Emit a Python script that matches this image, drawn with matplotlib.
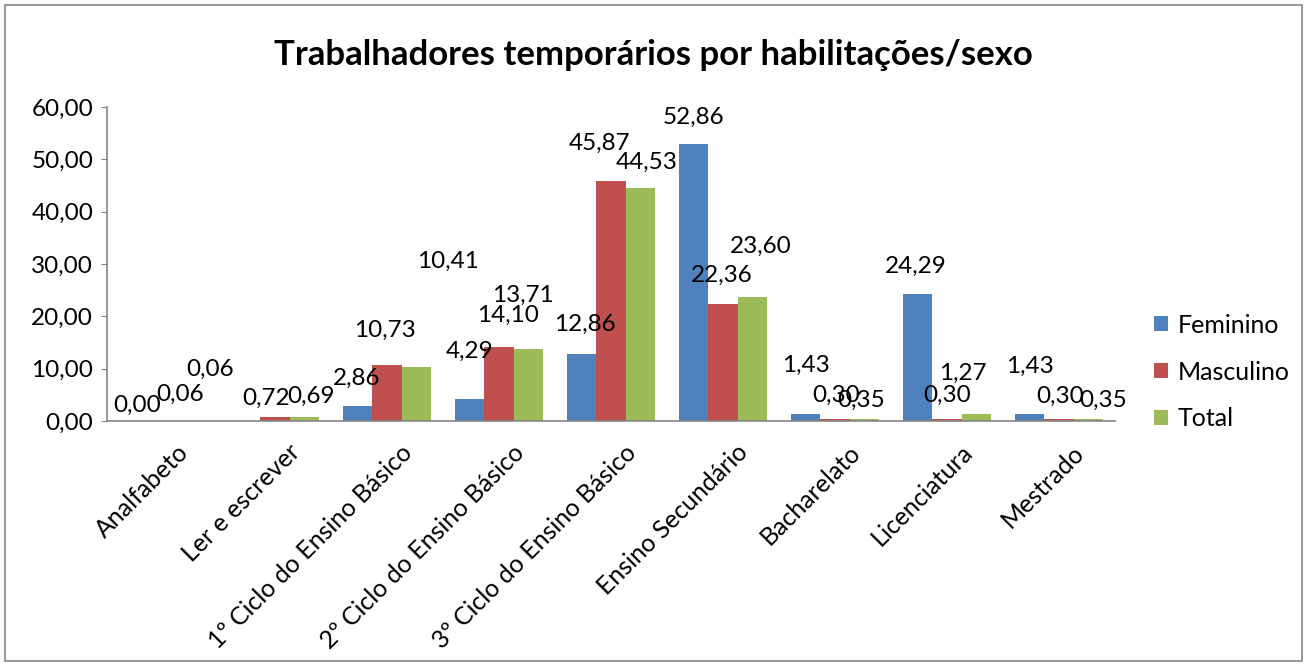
import numpy as np
import matplotlib.pyplot as plt
from matplotlib.patches import Rectangle

plt.rcParams['font.family'] = ['Lato', 'DejaVu Sans']

categorias = ["Analfabeto", "Ler e escrever", "1º Ciclo do Ensino Básico",
              "2º Ciclo do Ensino Básico", "3º Ciclo do Ensino Básico",
              "Ensino Secundário", "Bacharelato", "Licenciatura", "Mestrado"]
feminino = [0.00, 0.00, 2.86, 4.29, 12.86, 52.86, 1.43, 24.29, 1.43]
masculino = [0.06, 0.72, 10.73, 14.10, 45.87, 22.36, 0.30, 0.30, 0.30]
total = [0.06, 0.69, 10.41, 13.71, 44.53, 23.60, 0.35, 1.27, 0.35]
series = ["Feminino", "Masculino", "Total"]
cores = ["#4F81BD", "#C0504D", "#9BBB59"]

# label offsets (pixels) relative to bar top, as Excel placed them
off_f = [(3, 16), None, (-1, 28), (0, 47), (3, 29), (-1, 27), (0, 48), (-2, 28), (0, 47)]
off_m = [(17, 26), (-9, 19), (-2, 35), (9, 32), (-11, 38), (-1, 29), (1, 24), (0, 24), (1, 23)]
off_t = [(18, 51), (7, 21), (32, 105), (-5, 54), (7, 26), (9, 51), (-3, 19), (-13, 41), (15, 19)]

fs = 17.5

fig = plt.figure(figsize=(13.07, 6.64), dpi=100)
ax = fig.add_axes([107 / 1307, 1 - 421 / 664, 1008 / 1307, 314 / 664])

x = np.arange(len(categorias))
w = 0.259
for k, (vals, offs) in enumerate(zip([feminino, masculino, total], [off_f, off_m, off_t])):
    xs = x + (k - 1) * w
    ax.bar(xs, vals, w, color=cores[k], label=series[k])
    for xi, v, o in zip(xs, vals, offs):
        if o is None:
            continue
        ax.annotate(f"{v:.2f}".replace(".", ","), (xi, v), xytext=(o[0], o[1]),
                    textcoords="offset pixels", ha="center", va="center", fontsize=fs)

ax.set_xlim(-0.5, len(categorias) - 0.5)
ax.set_ylim(0, 60)
ax.set_yticks(np.arange(0, 61, 10))
ax.set_yticklabels([f"{t:.2f}".replace(".", ",") for t in np.arange(0, 61, 10)], fontsize=fs)
ax.set_xticks(x + 0.12)
ax.set_xticklabels(categorias, rotation=45, ha="right", va="top",
                   rotation_mode="anchor", fontsize=18)
ax.tick_params(axis="x", length=0, pad=14)
ax.tick_params(axis="y", length=4, color="#868686", pad=6)
for s in ["top", "right"]:
    ax.spines[s].set_visible(False)
for s in ["left", "bottom"]:
    ax.spines[s].set_color("#868686")
    ax.spines[s].set_linewidth(1.2)

ax.legend(loc="center left", bbox_to_anchor=(1154 / 1307, 1 - 372 / 664),
          bbox_transform=fig.transFigure, frameon=False, fontsize=18,
          handlelength=0.55, handleheight=0.55, labelspacing=0.95, handletextpad=0.4,
          borderaxespad=0, borderpad=0)

fig.text(0.5, 1 - 55 / 664, "Trabalhadores temporários por habilitações/sexo",
         ha="center", va="center", fontsize=25, fontweight="bold")
fig.patches.append(Rectangle((5 / 1307, 3 / 664), 1297 / 1307, 656 / 664,
                             transform=fig.transFigure, fill=False,
                             edgecolor="#868686", linewidth=1.2))

fig.savefig("out.png", dpi=100)
